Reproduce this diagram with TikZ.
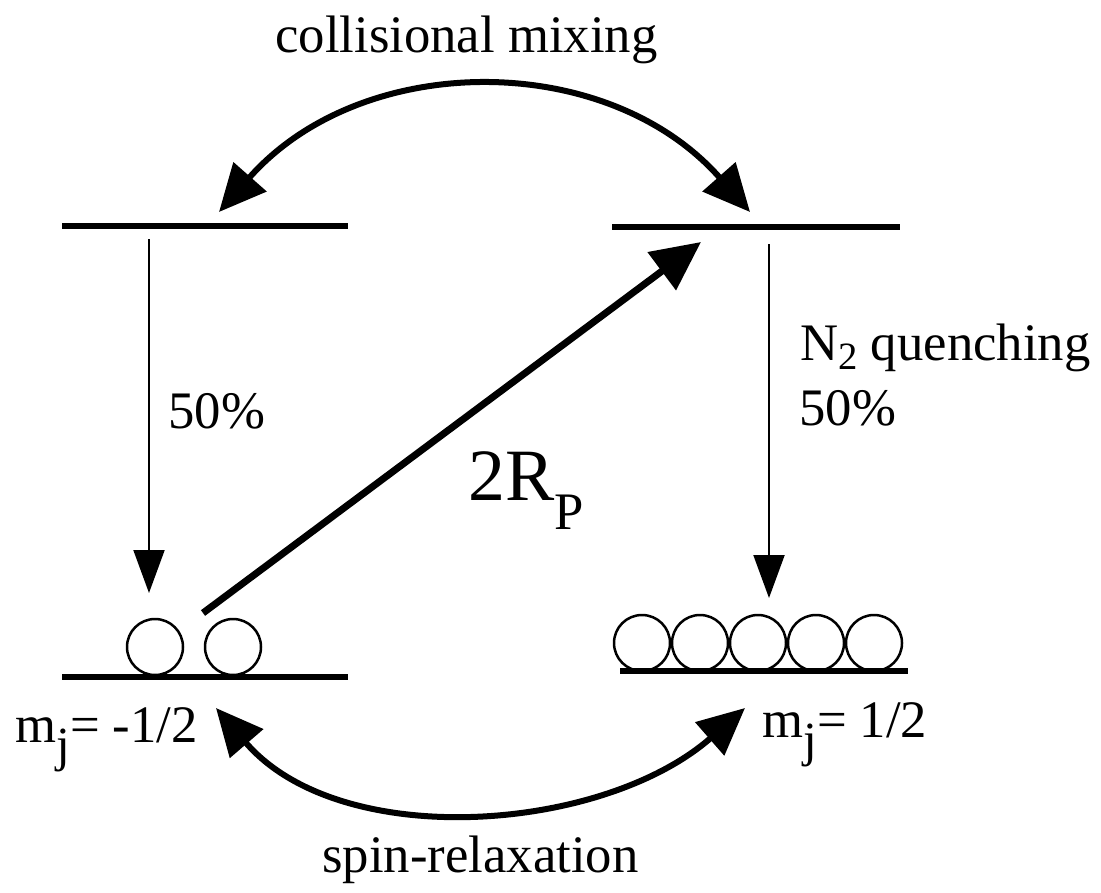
\documentclass[tikz,border=0pt]{standalone}
\usepackage{fontspec}
\setmainfont{Liberation Serif}
\usetikzlibrary{arrows.meta}

% lowered subscript: size, drop, text
\newcommand{\lowsub}[3]{\raisebox{-#2pt}{\fontsize{#1}{#1}\selectfont #3}}

\begin{document}
\begin{tikzpicture}[
  x=0.02cm, y=-0.02cm,
  font=\fontsize{30}{36}\selectfont,
  lvl/.style={line width=0.13cm},
  ball/.style={line width=0.05cm},
  decay/.style={line width=0.04cm, -{Triangle[length=0.86cm, width=0.62cm]}},
  pump/.style={line width=0.14cm, -{Triangle[length=0.98cm, width=0.92cm]}},
  mix/.style={line width=0.12cm,
    {Triangle[length=0.94cm, width=0.86cm]}-{Triangle[length=0.94cm, width=0.86cm]}},
  txt/.style={anchor=base west, inner sep=0pt}
]
  \useasboundingbox (0,0) rectangle (1101,892);

  % --- LEVELS ---
  \coordinate (upL1) at (62,226);  \coordinate (upL2) at (348,226);
  \coordinate (upR1) at (612,227); \coordinate (upR2) at (900,227);
  \coordinate (loL1) at (62,677);  \coordinate (loL2) at (348,677);
  \coordinate (loR1) at (620,671); \coordinate (loR2) at (908,671);

  \draw[lvl] (upL1) -- (upL2);
  \draw[lvl] (upR1) -- (upR2);
  \draw[lvl] (loL1) -- (loL2);
  \draw[lvl] (loR1) -- (loR2);

  % --- POPULATIONS ---
  \foreach \x in {155,233}
    \draw[ball] (\x,647) circle[radius=28];
  \foreach \i in {0,...,4}
    \draw[ball] (642+58*\i,643) circle[radius=28];

  % --- ARROWS ---
  % decay down (50% each)
  \coordinate (dkL1) at (149,239); \coordinate (dkL2) at (149,593);
  \coordinate (dkR1) at (769,244); \coordinate (dkR2) at (769,598);
  \draw[decay] (dkL1) -- (dkL2);
  \draw[decay] (dkR1) -- (dkR2);

  % optical pumping
  \coordinate (pmp1) at (203,613); \coordinate (pmp2) at (701,242);
  \draw[pump] (pmp1) -- (pmp2);

  % mixing between upper levels
  \coordinate (mixL) at (219,212); \coordinate (mixR) at (750,212);
  \draw[mix] (mixL) .. controls (362,50) and (607,50) .. (mixR);

  % spin relaxation between lower levels
  \coordinate (spnL) at (216,708); \coordinate (spnR) at (745,708);
  \draw[mix] (spnL) .. controls (340,852) and (602,833) .. (spnR);

  % --- LABELS ---
  \node[txt] (mixtxt) at (275,53) {collisional mixing};
  \node[txt] (spntxt) at (322,872) {spin-relaxation};
  \node[txt] (pctL) at (168,428) {50\%};
  \node[txt] (quench) at (800,360) {N\lowsub{22}{5.5}{2} quenching};
  \node[txt] (pctR) at (799,425) {50\%};
  \node[txt, font=\fontsize{42}{48}\selectfont] (rate) at (468,500) {2R\lowsub{30}{17}{P}};
  \node[txt] (mjL) at (15,742) {m\lowsub{28}{11}{j}= -1/2};
  \node[txt] (mjR) at (762,737) {m\lowsub{28}{11}{j}= 1/2};

\end{tikzpicture}
\end{document}
